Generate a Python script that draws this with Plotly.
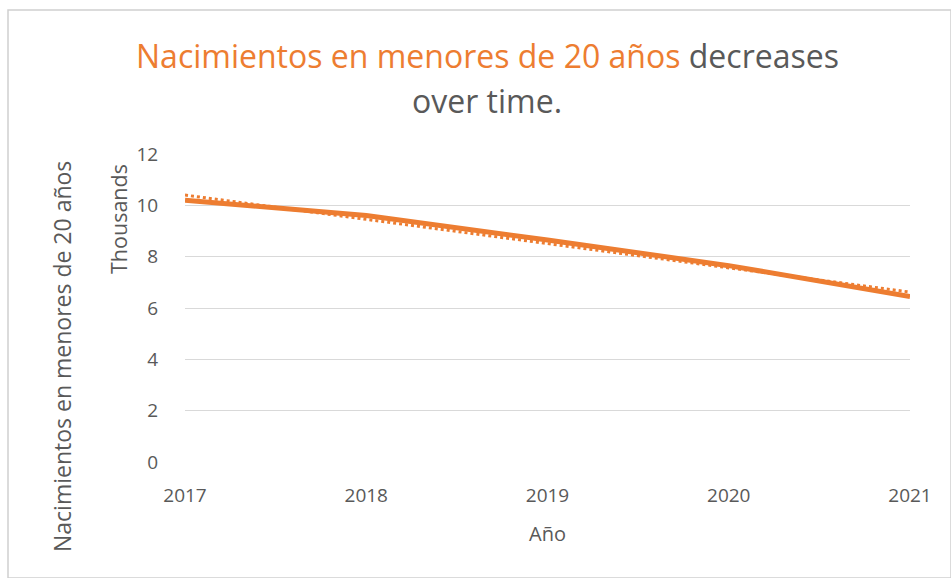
import numpy as np
import plotly.graph_objects as go

# Births to mothers under 20, by year
years = [2017, 2018, 2019, 2020, 2021]
births = [10200, 9600, 8650, 7650, 6450]

y_tick_vals = [0, 2000, 4000, 6000, 8000, 10000, 12000]
y_tick_text = ["0", "2", "4", "6", "8", "10", "12"]

ORANGE = "#ED7D31"
GREY = "#595959"
GRID = "#D9D9D9"
FONT = "Open Sans, sans-serif"

W, H = 951, 578
L, R, T, B = 185, 41, 154, 116
PW, PH = W - L - R, H - T - B


def px_x(px):
    return (px - L) / PW


def px_y(py):
    return (H - B - py) / PH


# linear trend fitted to the series
slope, intercept = np.polyfit(years, births, 1)
trend = [slope * x + intercept for x in years]

fig = go.Figure()
fig.add_trace(go.Scatter(
    x=years, y=births, mode="lines",
    line=dict(color=ORANGE, width=5),
    showlegend=False, hoverinfo="skip",
))
fig.add_trace(go.Scatter(
    x=years, y=trend, mode="lines",
    line=dict(color=ORANGE, width=3, dash="dot"),
    showlegend=False, hoverinfo="skip",
))

fig.update_layout(
    width=W, height=H,
    margin=dict(l=L, r=R, t=T, b=B),
    paper_bgcolor="white", plot_bgcolor="white",
    font=dict(family=FONT, color=GREY, size=18),
    xaxis=dict(
        range=[2017, 2021], tickvals=years, ticktext=[str(y) for y in years],
        showgrid=False, zeroline=False, showline=False,
        ticks="outside", ticklen=16, tickcolor="rgba(0,0,0,0)",
        tickfont=dict(size=19, color=GREY),
        title=dict(text="Año", font=dict(size=20, color=GREY), standoff=20),
    ),
    yaxis=dict(
        range=[0, 12000], tickvals=y_tick_vals, ticktext=y_tick_text,
        showgrid=True, gridcolor=GRID, gridwidth=1.3,
        zeroline=False, showline=False,
        ticks="outside", ticklen=22, tickcolor="rgba(0,0,0,0)",
        tickfont=dict(size=19, color=GREY),
    ),
)

annotations = [
    dict(text=(f"<span style='color:{ORANGE}'>Nacimientos en menores de 20 años</span>"
               f" decreases"),
         x=px_x(487), y=px_y(55), xref="paper", yref="paper",
         showarrow=False, font=dict(size=32, color=GREY, family=FONT),
         xanchor="center", yanchor="middle"),
    dict(text="over time.",
         x=px_x(487), y=px_y(100), xref="paper", yref="paper",
         showarrow=False, font=dict(size=32, color=GREY, family=FONT),
         xanchor="center", yanchor="middle"),
    dict(text="Thousands", textangle=-90,
         x=px_x(118), y=px_y(219), xref="paper", yref="paper",
         showarrow=False, font=dict(size=21.5, color=GREY, family=FONT),
         xanchor="center", yanchor="middle"),
    dict(text="Nacimientos en menores de 20 años", textangle=-90,
         x=px_x(62), y=px_y(357), xref="paper", yref="paper",
         showarrow=False, font=dict(size=23, color=GREY, family=FONT),
         xanchor="center", yanchor="middle"),
]
fig.update_layout(annotations=annotations)

# chart frame
fig.add_shape(type="rect", xref="paper", yref="paper",
              x0=px_x(8), x1=px_x(951), y0=px_y(578), y1=px_y(10),
              line=dict(color="#D0D0D0", width=1.5), fillcolor="rgba(0,0,0,0)",
              layer="below")

fig.write_html("out.html")
